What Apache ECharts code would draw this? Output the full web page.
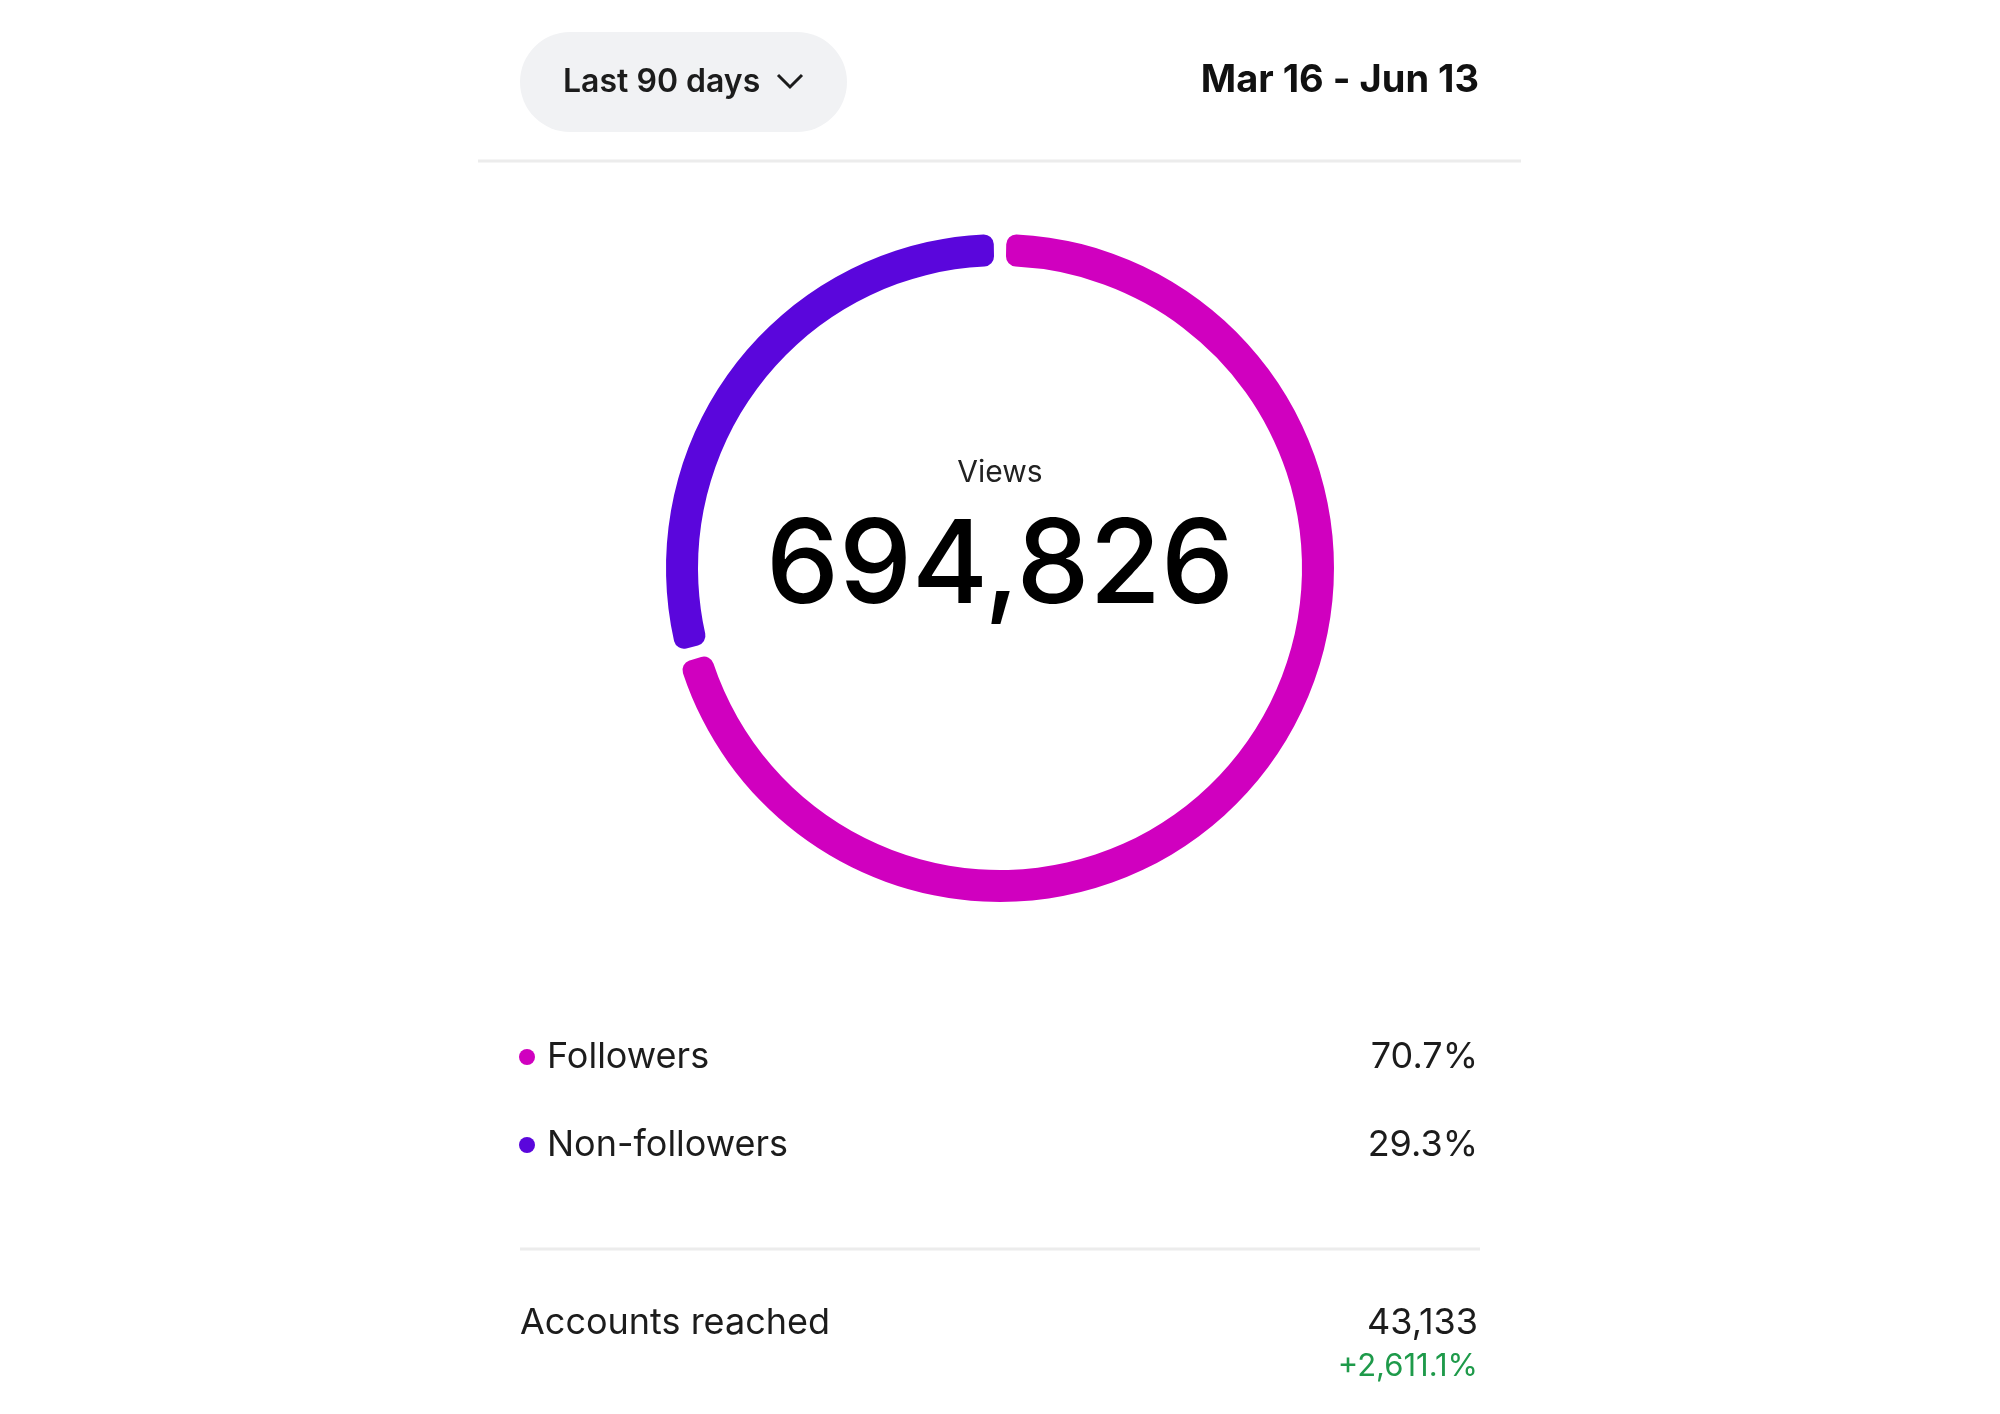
<!DOCTYPE html>
<html>
<head>
<meta charset="utf-8">
<script src="https://cdn.jsdelivr.net/npm/echarts@6/dist/echarts.min.js"></script>
<style>html,body{margin:0;padding:0;background:#fff}#main{width:2000px;height:1414px}</style>
</head>
<body>
<div id="main"></div>
<script>
// data
var categories = ['Followers', 'Non-followers'];
var shares = [70.7, 29.3];
var colors = ['#D000BF', '#5A06DC'];
var totalViews = '694,826';
var reachedLabel = 'Accounts reached';
var reachedValue = '43,133';
var reachedChange = '+2,611.1%';

var font = 'Inter, Roboto, sans-serif';
var myChart = echarts.init(document.getElementById('main'));

var g = [
    //顶部按钮
    {type: 'rect', shape: {x: 520, y: 32, width: 327, height: 100, r: 50}, style: {fill: '#F1F2F4'}},
    {type: 'text', x: 563, y: 82, style: {text: 'Last 90 days', font: '600 32px ' + font, fill: '#1c1c1c', verticalAlign: 'middle'}},
    {type: 'polyline', shape: {points: [[778, 75], [790, 87], [802, 75]]}, style: {stroke: '#1c1c1c', lineWidth: 3, fill: null}},
    {type: 'text', x: 1479, y: 81, style: {text: 'Mar 16 - Jun 13', font: 'bold 38px ' + font, fill: '#111', align: 'right', verticalAlign: 'middle'}},
    {type: 'line', shape: {x1: 478, y1: 161, x2: 1521, y2: 161}, style: {stroke: '#ECECEC', lineWidth: 3}},
    //中间文字
    {type: 'text', x: 1000, y: 473, style: {text: 'Views', font: '30px ' + font, fill: '#222', align: 'center', verticalAlign: 'middle'}},
    {type: 'text', x: 1000, y: 568, style: {text: totalViews, font: '500 116px ' + font, fill: '#000', align: 'center', verticalAlign: 'middle'}},
    {type: 'line', shape: {x1: 520, y1: 1249, x2: 1480, y2: 1249}, style: {stroke: '#ECECEC', lineWidth: 3}},
    {type: 'text', x: 520, y: 1323, style: {text: reachedLabel, font: '36px ' + font, fill: '#1c1c1c', verticalAlign: 'middle'}},
    {type: 'text', x: 1478, y: 1323, style: {text: reachedValue, font: '36px ' + font, fill: '#1c1c1c', align: 'right', verticalAlign: 'middle'}},
    {type: 'text', x: 1478, y: 1367, style: {text: reachedChange, font: '31px ' + font, fill: '#1E9A4A', align: 'right', verticalAlign: 'middle'}}
];
//图例行
var rowY = [1057, 1145];
categories.forEach(function(c, i){
    g.push({type: 'circle', shape: {cx: 527, cy: rowY[i], r: 8}, style: {fill: colors[i]}});
    g.push({type: 'text', x: 547, y: rowY[i], style: {text: c, font: '36px ' + font, fill: '#1c1c1c', verticalAlign: 'middle'}});
    g.push({type: 'text', x: 1478, y: rowY[i], style: {text: shares[i] + '%', font: '36px ' + font, fill: '#1c1c1c', align: 'right', verticalAlign: 'middle'}});
});

myChart.setOption({
    animation: false,
    graphic: g,
    series: [{
        type: 'pie',
        center: [1000, 568],
        radius: [302, 334],
        startAngle: 90,
        padAngle: 2.2,
        itemStyle: {borderRadius: 10},
        label: {show: false},
        silent: true,
        data: categories.map(function(c, i){
            return {name: c, value: shares[i], itemStyle: {color: colors[i]}};
        })
    }]
});
</script>
</body>
</html>
